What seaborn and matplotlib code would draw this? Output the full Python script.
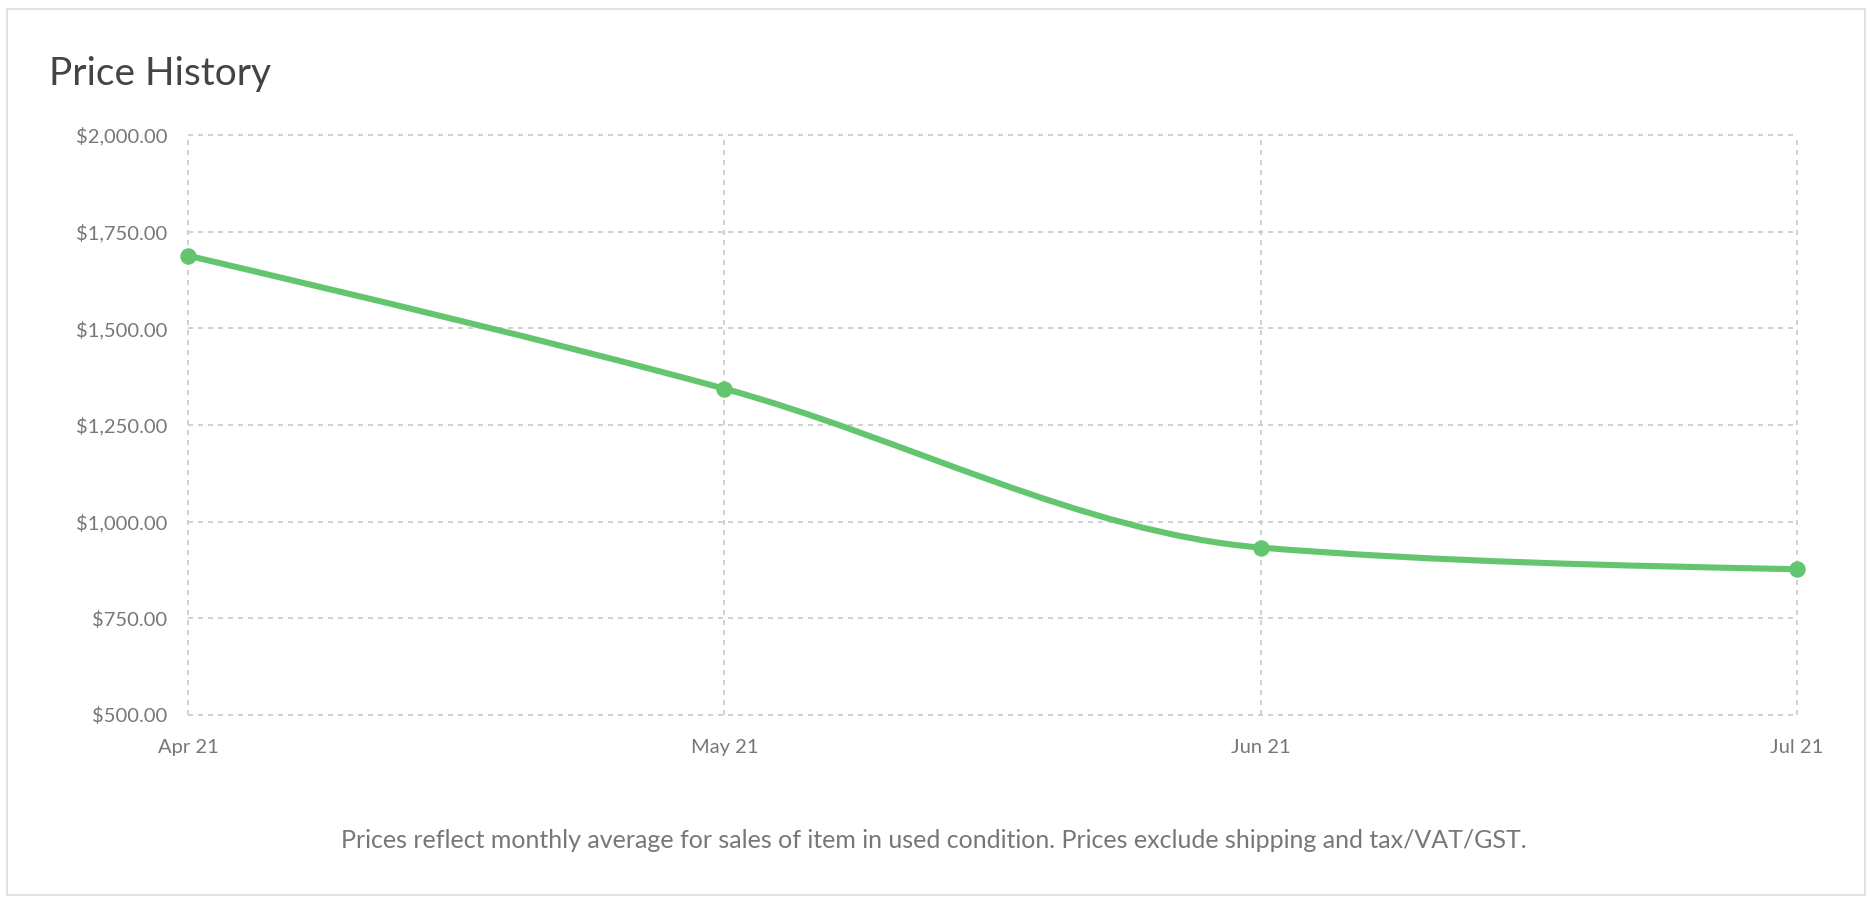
import numpy as np
import pandas as pd
import matplotlib
matplotlib.use("Agg")
import matplotlib.pyplot as plt
import seaborn as sns
from matplotlib.path import Path
from matplotlib.patches import PathPatch, Rectangle

# ---- data ----
months = ["Apr 21", "May 21", "Jun 21", "Jul 21"]
prices = [1688, 1344, 933, 877]
y_ticks = [500, 750, 1000, 1250, 1500, 1750, 2000]
title = "Price History"
footer = "Prices reflect monthly average for sales of item in used condition. Prices exclude shipping and tax/VAT/GST."

LINE = "#63c66f"
GRID = "#c9c9c9"
TXT = "#777777"

sns.set_theme(style="white")
plt.rcParams["font.family"] = ["Lato", "DejaVu Sans"]

W, H = 1874, 898
fig = plt.figure(figsize=(W / 100, H / 100), dpi=100)
fig.patch.set_facecolor("white")

# outer card border
fig.add_artist(Rectangle((7 / W, 3 / H), (1865 - 7) / W, (889 - 3) / H,
                         transform=fig.transFigure, fill=False,
                         edgecolor="#e2e2e2", linewidth=1.5))

L, R, T, B = 188, 1797, 135, 715
ax = fig.add_axes([L / W, 1 - B / H, (R - L) / W, (B - T) / H])
ax.set_facecolor("white")

df = pd.DataFrame({"month": months, "x": np.arange(len(months)), "price": prices})
xs = df["x"].to_numpy(float)
ys = df["price"].to_numpy(float)


# monotone-X cubic curve (d3 curveMonotoneX style) through the data points
def slope3(x0, y0, x1, y1, x2, y2):
    h0, h1 = x1 - x0, x2 - x1
    s0, s1 = (y1 - y0) / h0, (y2 - y1) / h1
    p = (s0 * h1 + s1 * h0) / (h0 + h1)
    return (np.sign(s0) + np.sign(s1)) * min(abs(s0), abs(s1), 0.5 * abs(p))


def slope2(x0, y0, x1, y1, t):
    return (3 * (y1 - y0) / (x1 - x0) - t) / 2


n = len(xs)
tang = np.zeros(n)
for i in range(1, n - 1):
    tang[i] = slope3(xs[i - 1], ys[i - 1], xs[i], ys[i], xs[i + 1], ys[i + 1])
tang[0] = slope2(xs[0], ys[0], xs[1], ys[1], tang[1])
tang[-1] = slope2(xs[-2], ys[-2], xs[-1], ys[-1], tang[-2])

verts = [(xs[0], ys[0])]
codes = [Path.MOVETO]
for i in range(n - 1):
    dx = (xs[i + 1] - xs[i]) / 3
    verts += [(xs[i] + dx, ys[i] + dx * tang[i]),
              (xs[i + 1] - dx, ys[i + 1] - dx * tang[i + 1]),
              (xs[i + 1], ys[i + 1])]
    codes += [Path.CURVE4] * 3
ax.add_patch(PathPatch(Path(verts, codes), facecolor="none", edgecolor=LINE,
                       linewidth=4.4, capstyle="round", joinstyle="round",
                       clip_on=False, zorder=3))

sns.scatterplot(data=df, x="x", y="price", ax=ax, color=LINE, s=140,
                edgecolor=LINE, linewidth=0, zorder=4, clip_on=False, legend=False)

ax.set_xticks(df["x"], months)
ax.set_yticks(y_ticks, [f"${v:,.2f}" for v in y_ticks])
ax.set_xlabel("")
ax.set_ylabel("")
ax.tick_params(axis="both", length=0, labelsize=14.5, colors=TXT)
ax.tick_params(axis="y", pad=15)
ax.tick_params(axis="x", pad=17)
ax.set_xlim(0, len(months) - 1)
ax.set_ylim(y_ticks[0], y_ticks[-1])

ax.grid(True, linestyle=(0, (3, 3)), color=GRID, linewidth=1.2)
for gl in ax.get_xgridlines() + ax.get_ygridlines():
    gl.set_clip_on(False)
for s in ax.spines.values():
    s.set_visible(False)

fig.text(49 / W, 1 - 74 / H, title, fontsize=28, color="#444444",
         va="center", ha="left")
fig.text(934 / W, 1 - 841 / H, footer, fontsize=18, color=TXT,
         va="center", ha="center")

fig.savefig("out.png", dpi=100, facecolor="white")
